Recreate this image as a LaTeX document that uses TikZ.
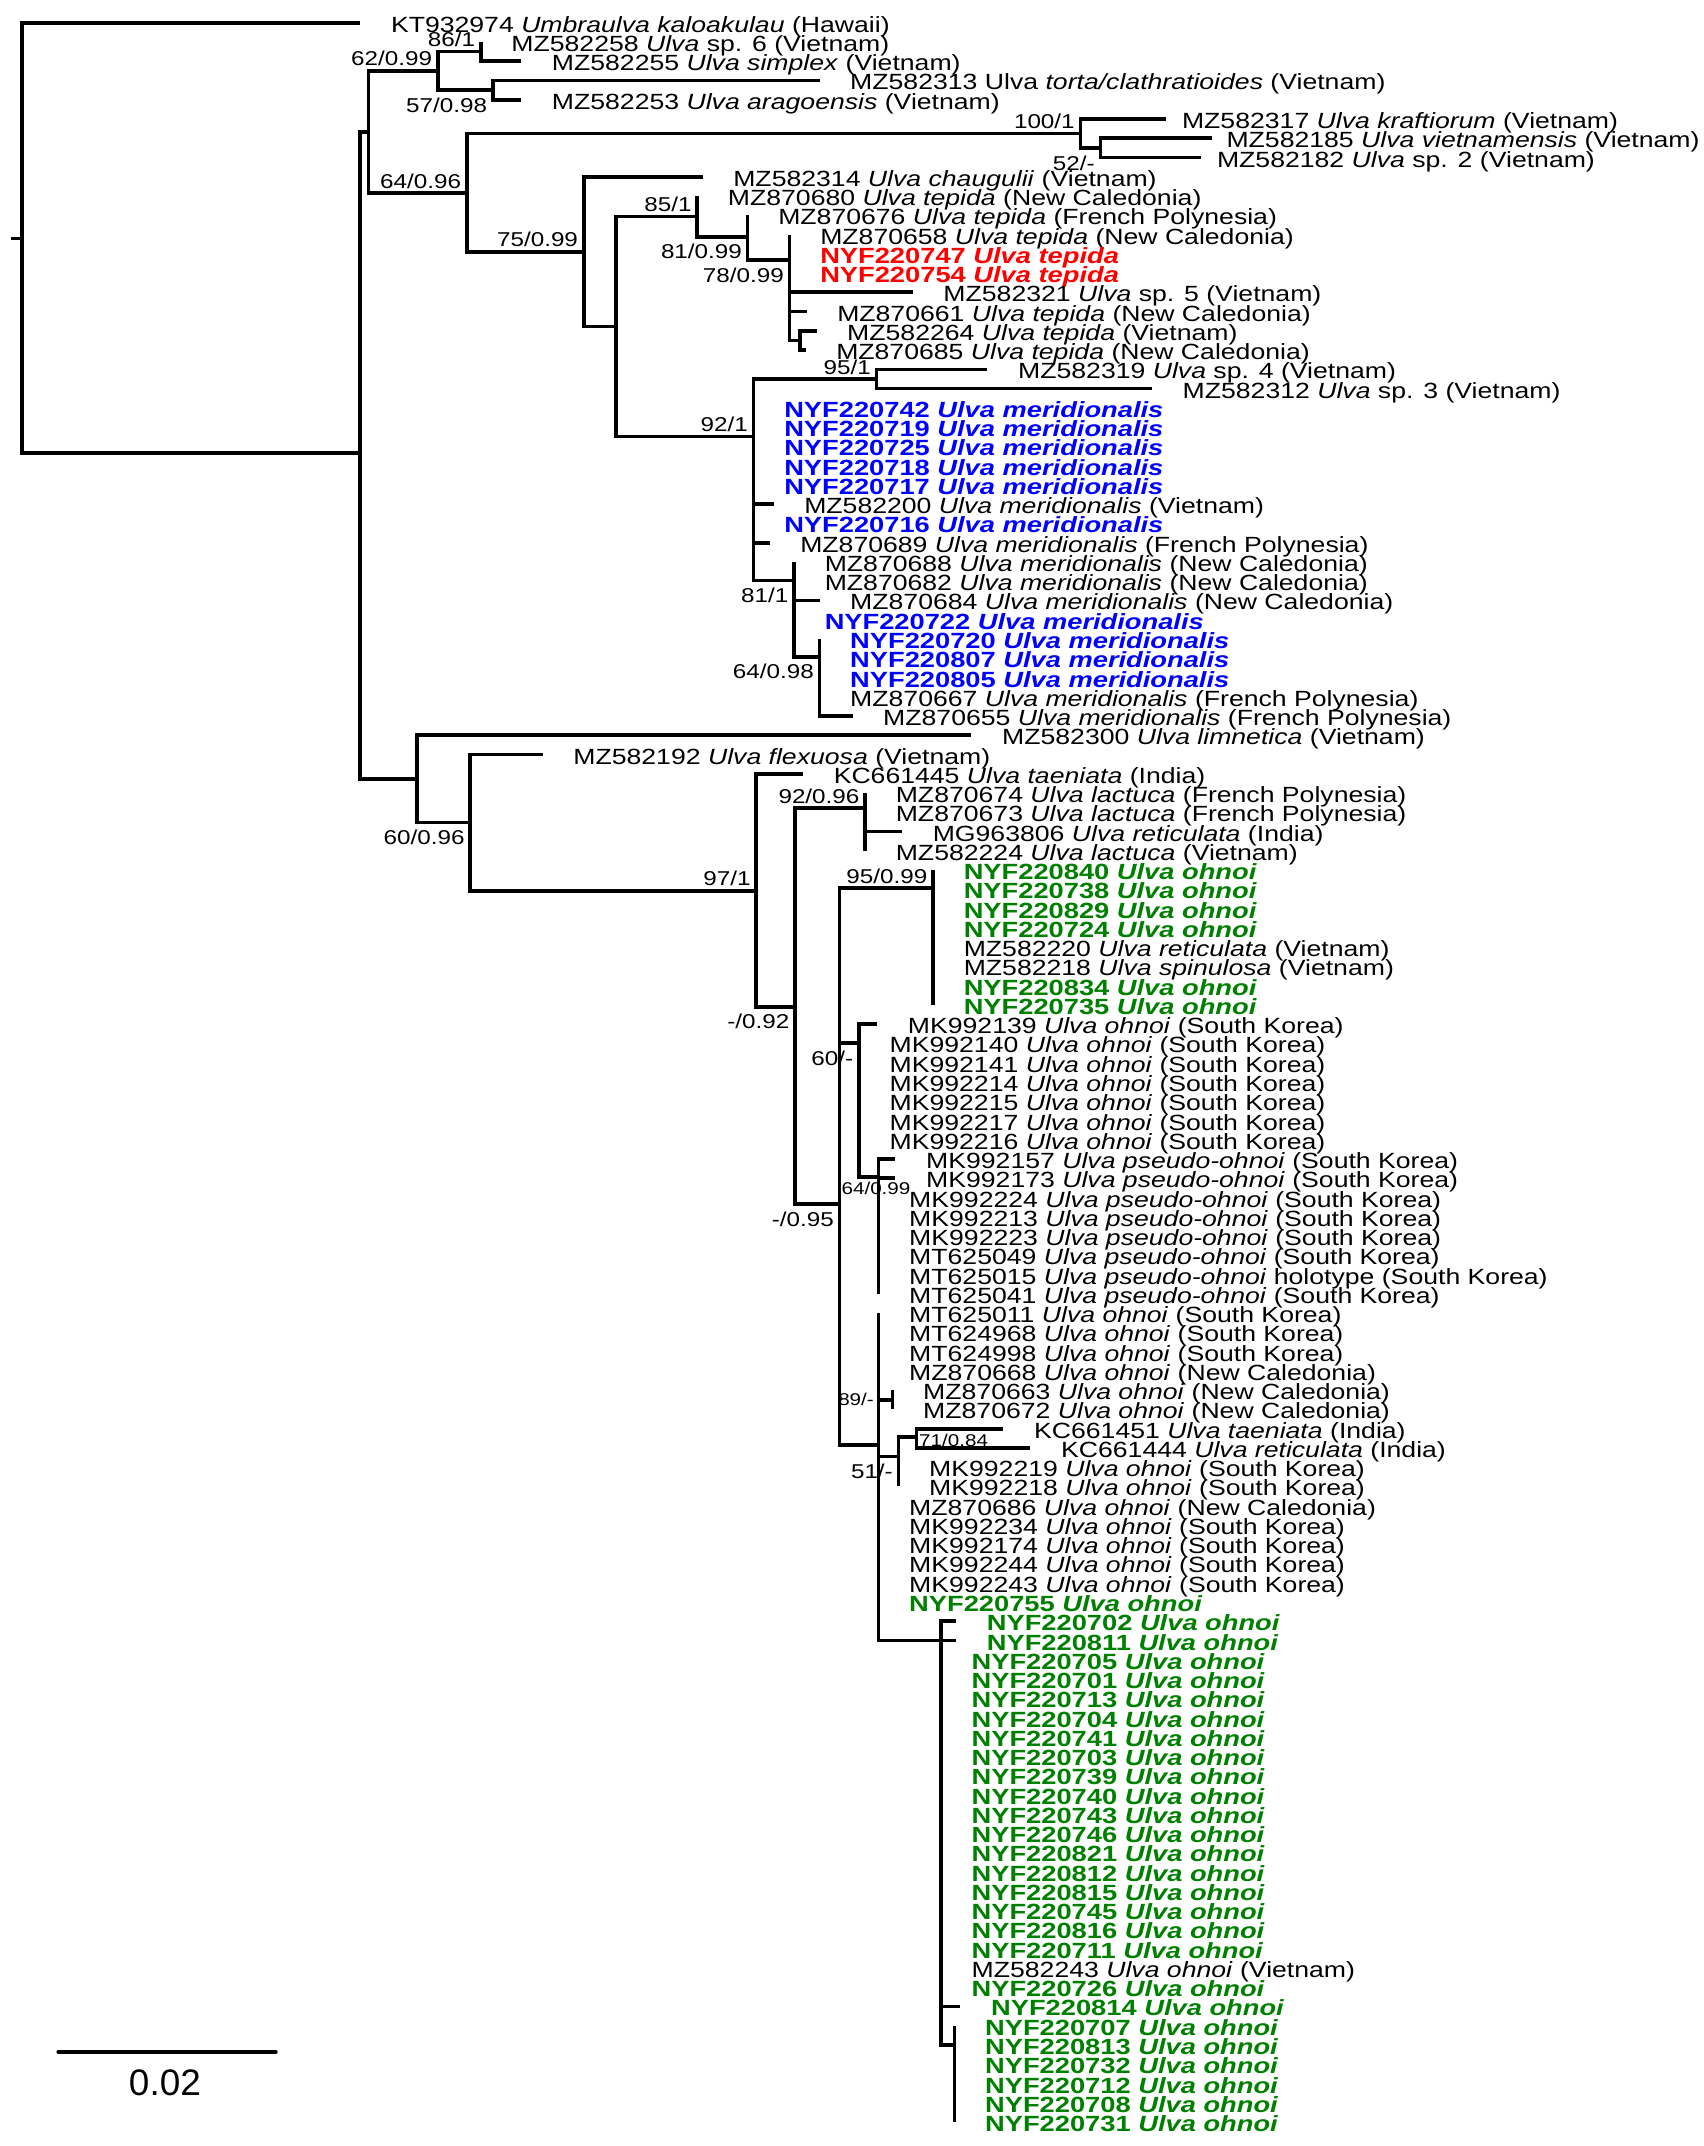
\documentclass[tikz,border=0pt]{standalone}
\usepackage{fontspec}
\setmainfont[FakeStretch=1.21, BoldFeatures={FakeStretch=1.24}, BoldItalicFeatures={FakeStretch=1.24}]{Liberation Sans}
\newfontfamily\barfamily{Liberation Sans}
\newcommand{\taxfont}{\fontsize{6.26pt}{7pt}\selectfont}
\newcommand{\supfont}{\fontsize{5.7pt}{6.5pt}\selectfont}
\newcommand{\supsmallfont}{\fontsize{4.85pt}{5.5pt}\selectfont}
\definecolor{ured}{RGB}{255,0,0}
\definecolor{ublue}{RGB}{0,0,255}
\definecolor{ugreen}{RGB}{0,128,0}
\tikzset{
  taxon/.style={anchor=base west, inner sep=0pt, xshift=0.30cm, yshift=-0.095cm, font=\taxfont},
  taxred/.style={taxon, text=ured, font=\taxfont\bfseries},
  taxblue/.style={taxon, text=ublue, font=\taxfont\bfseries},
  taxgreen/.style={taxon, text=ugreen, font=\taxfont\bfseries},
  supa/.style={anchor=south east, inner sep=0pt, xshift=-0.05cm, yshift=0.04cm, font=\supfont},
  supb/.style={anchor=north east, inner sep=0pt, xshift=-0.05cm, yshift=-0.07cm, font=\supfont},
  supsmall/.style={inner sep=0pt, font=\supsmallfont},
  treeline/.style={line width=1.05pt}
}
\begin{document}
\begin{tikzpicture}[x=0.01cm, y=-0.1926cm]
  \useasboundingbox[fill=white] (0,-0.1786) rectangle (1704,111.246);
  % internal nodes (x in px, y in rows)
  \coordinate (rt) at (10.8,12.2);
  \coordinate (n0) at (21.7,12.2);
  \coordinate (nA) at (360.5,23.35);
  \coordinate (nB) at (368.6,6.68);
  \coordinate (nC) at (438,3.5);
  \coordinate (nD) at (481,2.5);
  \coordinate (nE) at (493,4.5);
  \coordinate (nF) at (467,9.85);
  \coordinate (nG) at (1081,6.75);
  \coordinate (nH) at (1101,7.5);
  \coordinate (nI) at (584,12.89);
  \coordinate (nJ) at (616,16.78);
  \coordinate (nL) at (697.6,11.07);
  \coordinate (nM) at (748,12.11);
  \coordinate (nN) at (790,13.32);
  \coordinate (nO) at (800.5,17.5);
  \coordinate (nK) at (754,22.49);
  \coordinate (nP) at (877,19.5);
  \coordinate (nQ) at (794.5,29.97);
  \coordinate (nR) at (820,33.92);
  \coordinate (nS) at (417,40.27);
  \coordinate (nT) at (470.5,42.52);
  \coordinate (nU) at (756.7,46.07);
  \coordinate (nV) at (795.5,52.09);
  \coordinate (nW) at (865.6,41.79);
  \coordinate (nX) at (840,62.33);
  \coordinate (nY) at (933.6,45.94);
  \coordinate (nZ) at (859.4,53.99);
  \coordinate (nAA) at (879,60.92);
  \coordinate (nBB) at (879,74.85);
  \coordinate (nCC) at (893,72.5);
  \coordinate (nDD) at (899,75.45);
  \coordinate (nEE) at (917,74.42);
  \coordinate (nFF) at (941.5,85);
  \coordinate (nGG) at (955,106);

  % tips
  \path (360.5,1) coordinate (e1) node[taxon] (t1) {KT932974 \textit{Umbraulva kaloakulau} (Hawaii)};
  \path (481,2) coordinate (e2) node[taxon] (t2) {MZ582258 \textit{Ulva} sp. 6 (Vietnam)};
  \path (521.5,3) coordinate (e3) node[taxon] (t3) {MZ582255 \textit{Ulva simplex} (Vietnam)};
  \path (820,4) coordinate (e4) node[taxon] (t4) {MZ582313 Ulva \textit{torta/clathratioides} (Vietnam)};
  \path (521.5,5) coordinate (e5) node[taxon] (t5) {MZ582253 \textit{Ulva aragoensis} (Vietnam)};
  \path (1167,6) coordinate (e6) node[taxon, xshift=-0.15cm] (t6) {MZ582317 \textit{Ulva kraftiorum} (Vietnam)};
  \path (1212.5,7) coordinate (e7) node[taxon, xshift=-0.16cm] (t7) {MZ582185 \textit{Ulva vietnamensis} (Vietnam)};
  \path (1202,8) coordinate (e8) node[taxon, xshift=-0.15cm] (t8) {MZ582182 \textit{Ulva} sp. 2 (Vietnam)};
  \path (703,9) coordinate (e9) node[taxon] (t9) {MZ582314 \textit{Ulva chaugulii} (Vietnam)};
  \path (697.6,10) coordinate (e10) node[taxon] (t10) {MZ870680 \textit{Ulva tepida} (New Caledonia)};
  \path (748,11) coordinate (e11) node[taxon] (t11) {MZ870676 \textit{Ulva tepida} (French Polynesia)};
  \path (790,12) coordinate (e12) node[taxon] (t12) {MZ870658 \textit{Ulva tepida} (New Caledonia)};
  \path (790,13) coordinate (e13) node[taxred] (t13) {NYF220747 \textit{Ulva tepida}};
  \path (790,14) coordinate (e14) node[taxred] (t14) {NYF220754 \textit{Ulva tepida}};
  \path (913.3,15) coordinate (e15) node[taxon] (t15) {MZ582321 \textit{Ulva} sp. 5 (Vietnam)};
  \path (807,16) coordinate (e16) node[taxon] (t16) {MZ870661 \textit{Ulva tepida} (New Caledonia)};
  \path (817,17) coordinate (e17) node[taxon] (t17) {MZ582264 \textit{Ulva tepida} (Vietnam)};
  \path (806,18) coordinate (e18) node[taxon] (t18) {MZ870685 \textit{Ulva tepida} (New Caledonia)};
  \path (988,19) coordinate (e19) node[taxon] (t19) {MZ582319 \textit{Ulva} sp. 4 (Vietnam)};
  \path (1152.6,20) coordinate (e20) node[taxon] (t20) {MZ582312 \textit{Ulva} sp. 3 (Vietnam)};
  \path (754,21) coordinate (e21) node[taxblue] (t21) {NYF220742 \textit{Ulva meridionalis}};
  \path (754,22) coordinate (e22) node[taxblue] (t22) {NYF220719 \textit{Ulva meridionalis}};
  \path (754,23) coordinate (e23) node[taxblue] (t23) {NYF220725 \textit{Ulva meridionalis}};
  \path (754,24) coordinate (e24) node[taxblue] (t24) {NYF220718 \textit{Ulva meridionalis}};
  \path (754,25) coordinate (e25) node[taxblue] (t25) {NYF220717 \textit{Ulva meridionalis}};
  \path (774,26) coordinate (e26) node[taxon] (t26) {MZ582200 \textit{Ulva meridionalis} (Vietnam)};
  \path (754,27) coordinate (e27) node[taxblue] (t27) {NYF220716 \textit{Ulva meridionalis}};
  \path (770,28) coordinate (e28) node[taxon] (t28) {MZ870689 \textit{Ulva meridionalis} (French Polynesia)};
  \path (794.5,29) coordinate (e29) node[taxon] (t29) {MZ870688 \textit{Ulva meridionalis} (New Caledonia)};
  \path (794.5,30) coordinate (e30) node[taxon] (t30) {MZ870682 \textit{Ulva meridionalis} (New Caledonia)};
  \path (820,31) coordinate (e31) node[taxon] (t31) {MZ870684 \textit{Ulva meridionalis} (New Caledonia)};
  \path (794.5,32) coordinate (e32) node[taxblue] (t32) {NYF220722 \textit{Ulva meridionalis}};
  \path (820,33) coordinate (e33) node[taxblue] (t33) {NYF220720 \textit{Ulva meridionalis}};
  \path (820,34) coordinate (e34) node[taxblue] (t34) {NYF220807 \textit{Ulva meridionalis}};
  \path (820,35) coordinate (e35) node[taxblue] (t35) {NYF220805 \textit{Ulva meridionalis}};
  \path (820,36) coordinate (e36) node[taxon] (t36) {MZ870667 \textit{Ulva meridionalis} (French Polynesia)};
  \path (853,37) coordinate (e37) node[taxon] (t37) {MZ870655 \textit{Ulva meridionalis} (French Polynesia)};
  \path (972,38) coordinate (e38) node[taxon] (t38) {MZ582300 \textit{Ulva limnetica} (Vietnam)};
  \path (543,39) coordinate (e39) node[taxon] (t39) {MZ582192 \textit{Ulva flexuosa} (Vietnam)};
  \path (803.5,40) coordinate (e40) node[taxon] (t40) {KC661445 \textit{Ulva taeniata} (India)};
  \path (865.6,41) coordinate (e41) node[taxon] (t41) {MZ870674 \textit{Ulva lactuca} (French Polynesia)};
  \path (865.6,42) coordinate (e42) node[taxon] (t42) {MZ870673 \textit{Ulva lactuca} (French Polynesia)};
  \path (902.6,43) coordinate (e43) node[taxon] (t43) {MG963806 \textit{Ulva reticulata} (India)};
  \path (865.6,44) coordinate (e44) node[taxon] (t44) {MZ582224 \textit{Ulva lactuca} (Vietnam)};
  \path (933.6,45) coordinate (e45) node[taxgreen] (t45) {NYF220840 \textit{Ulva ohnoi}};
  \path (933.6,46) coordinate (e46) node[taxgreen] (t46) {NYF220738 \textit{Ulva ohnoi}};
  \path (933.6,47) coordinate (e47) node[taxgreen] (t47) {NYF220829 \textit{Ulva ohnoi}};
  \path (933.6,48) coordinate (e48) node[taxgreen] (t48) {NYF220724 \textit{Ulva ohnoi}};
  \path (933.6,49) coordinate (e49) node[taxon] (t49) {MZ582220 \textit{Ulva reticulata} (Vietnam)};
  \path (933.6,50) coordinate (e50) node[taxon] (t50) {MZ582218 \textit{Ulva spinulosa} (Vietnam)};
  \path (933.6,51) coordinate (e51) node[taxgreen] (t51) {NYF220834 \textit{Ulva ohnoi}};
  \path (933.6,52) coordinate (e52) node[taxgreen] (t52) {NYF220735 \textit{Ulva ohnoi}};
  \path (877.7,53) coordinate (e53) node[taxon] (t53) {MK992139 \textit{Ulva ohnoi} (South Korea)};
  \path (859.4,54) coordinate (e54) node[taxon] (t54) {MK992140 \textit{Ulva ohnoi} (South Korea)};
  \path (859.4,55) coordinate (e55) node[taxon] (t55) {MK992141 \textit{Ulva ohnoi} (South Korea)};
  \path (859.4,56) coordinate (e56) node[taxon] (t56) {MK992214 \textit{Ulva ohnoi} (South Korea)};
  \path (859.4,57) coordinate (e57) node[taxon] (t57) {MK992215 \textit{Ulva ohnoi} (South Korea)};
  \path (859.4,58) coordinate (e58) node[taxon] (t58) {MK992217 \textit{Ulva ohnoi} (South Korea)};
  \path (859.4,59) coordinate (e59) node[taxon] (t59) {MK992216 \textit{Ulva ohnoi} (South Korea)};
  \path (896,60) coordinate (e60) node[taxon] (t60) {MK992157 \textit{Ulva pseudo-ohnoi} (South Korea)};
  \path (896,61) coordinate (e61) node[taxon] (t61) {MK992173 \textit{Ulva pseudo-ohnoi} (South Korea)};
  \path (879,62) coordinate (e62) node[taxon] (t62) {MK992224 \textit{Ulva pseudo-ohnoi} (South Korea)};
  \path (879,63) coordinate (e63) node[taxon] (t63) {MK992213 \textit{Ulva pseudo-ohnoi} (South Korea)};
  \path (879,64) coordinate (e64) node[taxon] (t64) {MK992223 \textit{Ulva pseudo-ohnoi} (South Korea)};
  \path (879,65) coordinate (e65) node[taxon] (t65) {MT625049 \textit{Ulva pseudo-ohnoi} (South Korea)};
  \path (879,66) coordinate (e66) node[taxon] (t66) {MT625015 \textit{Ulva pseudo-ohnoi} holotype (South Korea)};
  \path (879,67) coordinate (e67) node[taxon] (t67) {MT625041 \textit{Ulva pseudo-ohnoi} (South Korea)};
  \path (879,68) coordinate (e68) node[taxon] (t68) {MT625011 \textit{Ulva ohnoi} (South Korea)};
  \path (879,69) coordinate (e69) node[taxon] (t69) {MT624968 \textit{Ulva ohnoi} (South Korea)};
  \path (879,70) coordinate (e70) node[taxon] (t70) {MT624998 \textit{Ulva ohnoi} (South Korea)};
  \path (879,71) coordinate (e71) node[taxon] (t71) {MZ870668 \textit{Ulva ohnoi} (New Caledonia)};
  \path (893,72) coordinate (e72) node[taxon] (t72) {MZ870663 \textit{Ulva ohnoi} (New Caledonia)};
  \path (893,73) coordinate (e73) node[taxon] (t73) {MZ870672 \textit{Ulva ohnoi} (New Caledonia)};
  \path (1004,74) coordinate (e74) node[taxon] (t74) {KC661451 \textit{Ulva taeniata} (India)};
  \path (1031,75) coordinate (e75) node[taxon] (t75) {KC661444 \textit{Ulva reticulata} (India)};
  \path (899,76) coordinate (e76) node[taxon] (t76) {MK992219 \textit{Ulva ohnoi} (South Korea)};
  \path (899,77) coordinate (e77) node[taxon] (t77) {MK992218 \textit{Ulva ohnoi} (South Korea)};
  \path (879,78) coordinate (e78) node[taxon] (t78) {MZ870686 \textit{Ulva ohnoi} (New Caledonia)};
  \path (879,79) coordinate (e79) node[taxon] (t79) {MK992234 \textit{Ulva ohnoi} (South Korea)};
  \path (879,80) coordinate (e80) node[taxon] (t80) {MK992174 \textit{Ulva ohnoi} (South Korea)};
  \path (879,81) coordinate (e81) node[taxon] (t81) {MK992244 \textit{Ulva ohnoi} (South Korea)};
  \path (879,82) coordinate (e82) node[taxon] (t82) {MK992243 \textit{Ulva ohnoi} (South Korea)};
  \path (879,83) coordinate (e83) node[taxgreen] (t83) {NYF220755 \textit{Ulva ohnoi}};
  \path (956.7,84) coordinate (e84) node[taxgreen] (t84) {NYF220702 \textit{Ulva ohnoi}};
  \path (956.7,85) coordinate (e85) node[taxgreen] (t85) {NYF220811 \textit{Ulva ohnoi}};
  \path (941.5,86) coordinate (e86) node[taxgreen] (t86) {NYF220705 \textit{Ulva ohnoi}};
  \path (941.5,87) coordinate (e87) node[taxgreen] (t87) {NYF220701 \textit{Ulva ohnoi}};
  \path (941.5,88) coordinate (e88) node[taxgreen] (t88) {NYF220713 \textit{Ulva ohnoi}};
  \path (941.5,89) coordinate (e89) node[taxgreen] (t89) {NYF220704 \textit{Ulva ohnoi}};
  \path (941.5,90) coordinate (e90) node[taxgreen] (t90) {NYF220741 \textit{Ulva ohnoi}};
  \path (941.5,91) coordinate (e91) node[taxgreen] (t91) {NYF220703 \textit{Ulva ohnoi}};
  \path (941.5,92) coordinate (e92) node[taxgreen] (t92) {NYF220739 \textit{Ulva ohnoi}};
  \path (941.5,93) coordinate (e93) node[taxgreen] (t93) {NYF220740 \textit{Ulva ohnoi}};
  \path (941.5,94) coordinate (e94) node[taxgreen] (t94) {NYF220743 \textit{Ulva ohnoi}};
  \path (941.5,95) coordinate (e95) node[taxgreen] (t95) {NYF220746 \textit{Ulva ohnoi}};
  \path (941.5,96) coordinate (e96) node[taxgreen] (t96) {NYF220821 \textit{Ulva ohnoi}};
  \path (941.5,97) coordinate (e97) node[taxgreen] (t97) {NYF220812 \textit{Ulva ohnoi}};
  \path (941.5,98) coordinate (e98) node[taxgreen] (t98) {NYF220815 \textit{Ulva ohnoi}};
  \path (941.5,99) coordinate (e99) node[taxgreen] (t99) {NYF220745 \textit{Ulva ohnoi}};
  \path (941.5,100) coordinate (e100) node[taxgreen] (t100) {NYF220816 \textit{Ulva ohnoi}};
  \path (941.5,101) coordinate (e101) node[taxgreen] (t101) {NYF220711 \textit{Ulva ohnoi}};
  \path (941.5,102) coordinate (e102) node[taxon] (t102) {MZ582243 \textit{Ulva ohnoi} (Vietnam)};
  \path (941.5,103) coordinate (e103) node[taxgreen] (t103) {NYF220726 \textit{Ulva ohnoi}};
  \path (961,104) coordinate (e104) node[taxgreen] (t104) {NYF220814 \textit{Ulva ohnoi}};
  \path (955,105) coordinate (e105) node[taxgreen] (t105) {NYF220707 \textit{Ulva ohnoi}};
  \path (955,106) coordinate (e106) node[taxgreen] (t106) {NYF220813 \textit{Ulva ohnoi}};
  \path (955,107) coordinate (e107) node[taxgreen] (t107) {NYF220732 \textit{Ulva ohnoi}};
  \path (955,108) coordinate (e108) node[taxgreen] (t108) {NYF220712 \textit{Ulva ohnoi}};
  \path (955,109) coordinate (e109) node[taxgreen] (t109) {NYF220708 \textit{Ulva ohnoi}};
  \path (955,110) coordinate (e110) node[taxgreen] (t110) {NYF220731 \textit{Ulva ohnoi}};

  % support values
  \node[supa] (s1) at (nC) {62/0.99};
  \node[supa] (s2) at (nD) {86/1};
  \node[supb] (s3) at (nE) {57/0.98};
  \node[supa] (s4) at (nF) {64/0.96};
  \node[supa] (s5) at (nG) {100/1};
  \node[supb] (s6) at (nH) {52/-};
  \node[supa] (s7) at (nI) {75/0.99};
  \node[supa] (s8) at (nL) {85/1};
  \node[supb] (s9) at (nM) {81/0.99};
  \node[supb] (s10) at (nN) {78/0.99};
  \node[supa] (s11) at (nP) {95/1};
  \node[supa] (s12) at (nK) {92/1};
  \node[supb] (s13) at (nQ) {81/1};
  \node[supb] (s14) at (nR) {64/0.98};
  \node[supb] (s15) at (nT) {60/0.96};
  \node[supa] (s16) at (nU) {97/1};
  \node[supa] (s17) at (nW) {92/0.96};
  \node[supb] (s18) at (nV) {-/0.92};
  \node[supa] (s19) at (nY) {95/0.99};
  \node[supb] (s20) at (nZ) {60/-};
  \node[supsmall, anchor=north, xshift=-0.025cm, yshift=-0.05cm] (s21) at (nAA) {64/0.99};
  \node[supb] (s22) at (nX) {-/0.95};
  \node[supsmall, anchor=east, xshift=-0.18cm] (s23) at (nCC) {89/-};
  \node[supsmall, anchor=west, xshift=0.02cm, yshift=-0.035cm] (s24) at (nEE) {71/0.84};
  \node[supb] (s25) at (nDD) {51/-};

  % branches
  \begin{scope}[treeline]
    \draw (rt) -- (n0);
    \draw (n0) |- (e1);
    \draw (n0) |- (nA);
    \draw (nA) |- (nB);
    \draw (nA) |- (nS);
    \draw (nB) |- (nC);
    \draw (nB) |- (nF);
    \draw (nC) |- (nD);
    \draw (nC) |- (nE);
    \draw (nD) |- (e2);
    \draw (nD) |- (e3);
    \draw (nE) |- (e4);
    \draw (nE) |- (e5);
    \draw (nF) |- (nG);
    \draw (nF) |- (nI);
    \draw (nG) |- (e6);
    \draw (nG) |- (nH);
    \draw (nH) |- (e7);
    \draw (nH) |- (e8);
    \draw (nI) |- (e9);
    \draw (nI) |- (nJ);
    \draw (nJ) |- (nL);
    \draw (nJ) |- (nK);
    \draw (nL) |- (e10);
    \draw (nL) |- (nM);
    \draw (nM) |- (e11);
    \draw (nM) |- (nN);
    \draw (nN) |- (e12);
    \draw (nN) |- (e13);
    \draw (nN) |- (e14);
    \draw (nN) |- (e15);
    \draw (nN) |- (e16);
    \draw (nN) |- (nO);
    \draw (nO) |- (e17);
    \draw (nO) |- (e18);
    \draw (nK) |- (nP);
    \draw (nP) |- (e19);
    \draw (nP) |- (e20);
    \draw (nK) |- (e21);
    \draw (nK) |- (e22);
    \draw (nK) |- (e23);
    \draw (nK) |- (e24);
    \draw (nK) |- (e25);
    \draw (nK) |- (e26);
    \draw (nK) |- (e27);
    \draw (nK) |- (e28);
    \draw (nK) |- (nQ);
    \draw (nQ) |- (e29);
    \draw (nQ) |- (e30);
    \draw (nQ) |- (e31);
    \draw (nQ) |- (e32);
    \draw (nQ) |- (nR);
    \draw (nR) |- (e33);
    \draw (nR) |- (e34);
    \draw (nR) |- (e35);
    \draw (nR) |- (e36);
    \draw (nR) |- (e37);
    \draw (nS) |- (e38);
    \draw (nS) |- (nT);
    \draw (nT) |- (e39);
    \draw (nT) |- (nU);
    \draw (nU) |- (e40);
    \draw (nU) |- (nV);
    \draw (nV) |- (nW);
    \draw (nV) |- (nX);
    \draw (nW) |- (e41);
    \draw (nW) |- (e42);
    \draw (nW) |- (e43);
    \draw (nW) |- (e44);
    \draw (nX) |- (nY);
    \draw (nX) |- (nZ);
    \draw (nX) |- (nBB);
    \draw (nY) |- (e45);
    \draw (nY) |- (e46);
    \draw (nY) |- (e47);
    \draw (nY) |- (e48);
    \draw (nY) |- (e49);
    \draw (nY) |- (e50);
    \draw (nY) |- (e51);
    \draw (nY) |- (e52);
    \draw (nZ) |- (e53);
    \draw (nZ) |- (e54);
    \draw (nZ) |- (e55);
    \draw (nZ) |- (e56);
    \draw (nZ) |- (e57);
    \draw (nZ) |- (e58);
    \draw (nZ) |- (e59);
    \draw (nZ) |- (nAA);
    \draw (nAA) |- (e60);
    \draw (nAA) |- (e61);
    \draw (nAA) |- (e62);
    \draw (nAA) |- (e63);
    \draw (nAA) |- (e64);
    \draw (nAA) |- (e65);
    \draw (nAA) |- (e66);
    \draw (nAA) |- (e67);
    \draw (nBB) |- (e68);
    \draw (nBB) |- (e69);
    \draw (nBB) |- (e70);
    \draw (nBB) |- (e71);
    \draw (nBB) |- (nCC);
    \draw (nCC) |- (e72);
    \draw (nCC) |- (e73);
    \draw (nBB) |- (nDD);
    \draw (nDD) |- (nEE);
    \draw (nEE) |- (e74);
    \draw (nEE) |- (e75);
    \draw (nDD) |- (e76);
    \draw (nDD) |- (e77);
    \draw (nBB) |- (e78);
    \draw (nBB) |- (e79);
    \draw (nBB) |- (e80);
    \draw (nBB) |- (e81);
    \draw (nBB) |- (e82);
    \draw (nBB) |- (e83);
    \draw (nBB) |- (nFF);
    \draw (nFF) |- (e84);
    \draw (nFF) |- (e85);
    \draw (nFF) |- (e86);
    \draw (nFF) |- (e87);
    \draw (nFF) |- (e88);
    \draw (nFF) |- (e89);
    \draw (nFF) |- (e90);
    \draw (nFF) |- (e91);
    \draw (nFF) |- (e92);
    \draw (nFF) |- (e93);
    \draw (nFF) |- (e94);
    \draw (nFF) |- (e95);
    \draw (nFF) |- (e96);
    \draw (nFF) |- (e97);
    \draw (nFF) |- (e98);
    \draw (nFF) |- (e99);
    \draw (nFF) |- (e100);
    \draw (nFF) |- (e101);
    \draw (nFF) |- (e102);
    \draw (nFF) |- (e103);
    \draw (nFF) |- (e104);
    \draw (nFF) |- (nGG);
    \draw (nGG) |- (e105);
    \draw (nGG) |- (e106);
    \draw (nGG) |- (e107);
    \draw (nGG) |- (e108);
    \draw (nGG) |- (e109);
    \draw (nGG) |- (e110);
  \end{scope}

  % scale bar
  \coordinate (sbA) at (58.3,106.35);
  \coordinate (sbB) at (276,106.35);
  \draw[treeline, line cap=round] (sbA) -- (sbB);
  \node[anchor=base, inner sep=0pt, font=\barfamily\fontsize{10.5pt}{12pt}\selectfont] (sbl) at (165,108.6) {0.02};
\end{tikzpicture}
\end{document}
